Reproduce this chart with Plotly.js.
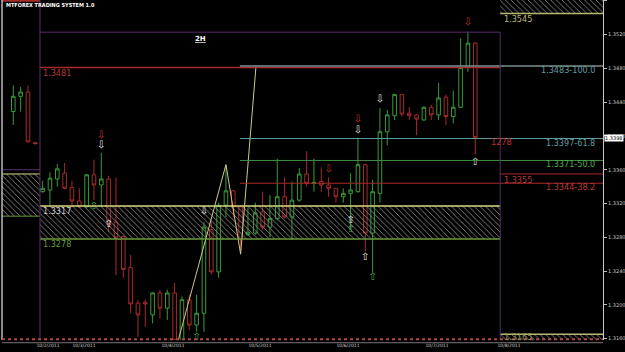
<!DOCTYPE html>
<html><head><meta charset="utf-8">
<script src="https://cdn.plot.ly/plotly-3.0.1.min.js"></script>
<style>html,body{margin:0;padding:0;background:#000;}#chart{width:625px;height:352px;}</style>
</head><body><div id="chart"></div>
<script>
// ---- data (2H bars, index = bar number) ----
const bars  = [0,1,2,3,4,5,6,7,8,9,10,11,12,13,14,15,16,17,18,19,20,21,22,23,24,25,26,27,28,29,30,31,32,33,34,35,36,37,38,39,40,41,42,43,44,45,46,47,48,49,50,51,52,53,54,55,56,57,58,59,60,61,62,63];
const opens = [1.3429,1.3447,1.3452,1.3392,1.3334,1.3336,1.3349,1.3356,1.3339,1.3323,1.3316,1.3354,1.3342,1.3349,1.3298,1.3281,1.3244,1.3202,1.3203,1.3188,1.3214,1.3196,1.3214,1.3158,1.3206,1.3176,1.3190,1.3289,1.3239,1.3318,1.3335,1.3316,1.3283,1.3285,1.3310,1.3292,1.3302,1.3328,1.3304,1.3324,1.3355,1.3344,1.3346,1.3342,1.3338,1.3328,1.3332,1.3334,1.3366,1.3285,1.3332,1.3405,1.3424,1.3449,1.3427,1.3425,1.3419,1.3434,1.3425,1.3446,1.3423,1.3434,1.3481,1.3510];
const highs = [1.3460,1.3458,1.3460,1.3393,1.3347,1.3357,1.3367,1.3368,1.3347,1.3338,1.3355,1.3372,1.3380,1.3353,1.3351,1.3282,1.3259,1.3206,1.3206,1.3215,1.3218,1.3218,1.3226,1.3210,1.3212,1.3212,1.3298,1.3298,1.3321,1.3366,1.3336,1.3318,1.3315,1.3321,1.3334,1.3330,1.3373,1.3351,1.3346,1.3362,1.3382,1.3373,1.3363,1.3351,1.3338,1.3338,1.3356,1.3398,1.3367,1.3348,1.3433,1.3431,1.3450,1.3450,1.3434,1.3426,1.3435,1.3437,1.3463,1.3449,1.3454,1.3516,1.3523,1.3511];
const lows  = [1.3413,1.3429,1.3393,1.3390,1.3333,1.3318,1.3340,1.3337,1.3316,1.3315,1.3315,1.3324,1.3316,1.3286,1.3235,1.3232,1.3190,1.3162,1.3174,1.3178,1.3184,1.3182,1.3155,1.3155,1.3170,1.3168,1.3168,1.3236,1.3232,1.3304,1.3304,1.3260,1.3282,1.3283,1.3289,1.3280,1.3300,1.3302,1.3277,1.3322,1.3340,1.3334,1.3334,1.3328,1.3321,1.3321,1.3289,1.3333,1.3263,1.3238,1.3321,1.3389,1.3419,1.3423,1.3419,1.3401,1.3418,1.3419,1.3419,1.3413,1.3415,1.3433,1.3476,1.3378];
const closes= [1.3447,1.3452,1.3393,1.3391,1.3338,1.3350,1.3361,1.3338,1.3323,1.3316,1.3354,1.3342,1.3349,1.3295,1.3279,1.3242,1.3201,1.3188,1.3201,1.3214,1.3196,1.3214,1.3158,1.3206,1.3176,1.3190,1.3292,1.3239,1.3318,1.3335,1.3316,1.3277,1.3286,1.3309,1.3292,1.3302,1.3328,1.3304,1.3324,1.3355,1.3344,1.3345,1.3342,1.3338,1.3328,1.3332,1.3336,1.3366,1.3285,1.3334,1.3405,1.3425,1.3449,1.3426,1.3424,1.3420,1.3434,1.3425,1.3445,1.3423,1.3434,1.3481,1.3510,1.3398];

const dateTickPos    = [4.73, 9.64, 21.78, 33.64, 45.64, 57.78, 67.6];
const dateTickLabels = ["10/2/2011","10/3/2011","10/4/2011","10/5/2011","10/6/2011","10/7/2011","10/8/2011"];
const priceTicks     = [1.3160,1.3200,1.3240,1.3280,1.3320,1.3360,1.3400,1.3440,1.3480,1.3520,1.3560];

// zig-zag swing points
const zigX = [22.4, 29, 31, 33.1];
const zigY = [1.3155, 1.3366, 1.3260, 1.3483];

// signal arrows
const whiteDownX = [12, 26, 47, 50];      const whiteDownY = [1.3389, 1.3310, 1.3407, 1.3443];
const whiteUpX   = [13, 46, 48, 63];      const whiteUpY   = [1.3295, 1.3300, 1.3256, 1.3369];
const greenUpX   = [11, 25, 46, 49];      const greenUpY   = [1.3316, 1.3161, 1.3289, 1.3232];
const redDownX   = [12, 43, 47, 62];      const redDownY   = [1.3401, 1.3360, 1.3419, 1.3534];

// levels
const prevHigh = 1.3481, fib100 = 1.3483, fib618 = 1.3397, fib50 = 1.3371, fib382 = 1.3344;
const zoneTop = 1.3317, zoneBot = 1.3278;
const leftZoneTop = 1.3355, leftZoneBot = 1.3305, leftPurple = 1.3360;
const nextHigh = 1.3545, nextMid = 1.3355, nextLow = 1.3165;
const boxTop = 1.3523;
const boxStart = 3.64, fibStart = 30.9, boxEnd = 66.4;

const X0 = -1.54, X1 = 80.42, Y0 = 1.31583, Y1 = 1.35611;

// ---- build ----
const GREEN = '#3a9a3a', RED = '#a82a2a', TEAL = '#5f9ea0', FGREEN = '#3f8f3f', YEL = '#d8d880', PURP = '#5a2d6e';
const hatch = {shape: '\\', fgcolor: '#8a8a8a', bgcolor: 'rgba(0,0,0,0)', size: 4, solidity: 0.22};
function box(x0, x1, y0, y1) {
  return {type: 'scatter', mode: 'lines', x: [x0, x1, x1, x0, x0], y: [y0, y0, y1, y1, y0],
    fill: 'toself', fillcolor: 'rgba(0,0,0,0)', fillpattern: hatch, line: {width: 0}, hoverinfo: 'skip'};
}
function arrows(xs, ys, glyph, color) {
  return {type: 'scatter', mode: 'text', x: xs, y: ys, text: xs.map(() => glyph),
    textfont: {size: 10, color: color, family: 'DejaVu Sans'}, hoverinfo: 'skip'};
}
const traces = [
  box(boxStart, boxEnd, zoneBot, zoneTop),
  box(X0, boxStart, leftZoneBot, leftZoneTop),
  box(boxEnd, X1, nextHigh, Y1),
  box(boxEnd, X1, Y0, nextLow),
  {type: 'candlestick', x: bars, open: opens, high: highs, low: lows, close: closes,
   increasing: {line: {color: GREEN, width: 1}, fillcolor: 'rgba(0,0,0,0)'},
   decreasing: {line: {color: RED, width: 1}, fillcolor: 'rgba(0,0,0,0)'},
   whiskerwidth: 0, hoverinfo: 'skip'},
  {type: 'scatter', mode: 'lines', x: zigX, y: zigY, line: {color: '#cfc88a', width: 1}, hoverinfo: 'skip'},
  arrows(whiteDownX, whiteDownY, '⇩', '#e8e8e8'),
  arrows(whiteUpX, whiteUpY, '⇧', '#e8e8e8'),
  arrows(greenUpX, greenUpY, '⇧', '#4caf50'),
  arrows(redDownX, redDownY, '⇩', '#c03030')
];

function hl(x0, x1, y, color, w) {
  return {type: 'line', xref: 'x', yref: 'y', x0: x0, x1: x1, y0: y, y1: y, line: {color: color, width: w || 1}};
}
function vl(x, y0, y1, color) {
  return {type: 'line', xref: 'x', yref: 'y', x0: x, x1: x, y0: y0, y1: y1, line: {color: color, width: 1}};
}
const shapes = [
  hl(boxStart, boxEnd, prevHigh, RED, 1.5),
  hl(fibStart, X1, fib100, '#7a8f8f', 1.5),
  hl(fibStart, X1, fib618, TEAL),
  hl(fibStart, X1, fib50, FGREEN),
  hl(fibStart, X1, fib382, RED),
  hl(boxEnd, X1, nextMid, RED),
  hl(boxEnd, X1, nextHigh, '#b8b870', 1.5),
  hl(boxEnd, X1, nextLow, '#b8b870', 1.5),
  hl(boxStart, boxEnd, zoneTop, YEL, 1.5),
  hl(boxStart, boxEnd, zoneBot, '#6a9a3a', 1.5),
  hl(X0, boxStart, leftZoneTop, YEL, 1),
  hl(X0, boxStart, leftZoneBot, '#6a9a3a', 1),
  hl(X0, boxStart, leftPurple, PURP, 1),
  hl(X0, boxStart, Y1 - 0.0001, RED, 2),
  hl(boxStart, boxEnd, boxTop, PURP, 1),
  vl(boxStart, Y0, Y1, PURP),
  vl(boxEnd, Y0, boxTop, PURP),
  {type: 'line', xref: 'paper', yref: 'paper', x0: 0, x1: 0, y0: 0, y1: 1, line: {color: '#bbbbbb', width: 1.5}},
  {type: 'line', xref: 'paper', yref: 'paper', x0: 0, x1: 1, y0: 0.002, y1: 0.002, line: {color: '#b04848', width: 2, dash: 'dot'}},
  {type: 'line', xref: 'paper', yref: 'paper', x0: 0, x1: 1, y0: -0.008, y1: -0.008, line: {color: '#777', width: 1}}
];

const NF = 'Liberation Sans Narrow, DejaVu Sans Condensed, Arial Narrow, sans-serif';
const px = p => (p - 2) / 601;
function lab(xp, y, text, color, anchor, yshift) {
  return {xref: 'paper', yref: 'y', x: px(xp), y: y, text: text, showarrow: false, xanchor: anchor,
    yanchor: 'middle', yshift: yshift, font: {family: NF, size: 9, color: color}};
}
const annotations = [
  {xref: 'paper', yref: 'paper', x: px(4), y: 0.985, text: '<b>MTFOREX TRADING SYSTEM 1.0</b>', showarrow: false,
   xanchor: 'left', yanchor: 'middle', font: {family: 'DejaVu Sans Condensed, sans-serif', size: 5.5, color: '#ffffff'}},
  {xref: 'paper', yref: 'y', x: px(200), y: 1.3515, text: '<b><u>2H</u></b>', showarrow: false, xanchor: 'center',
   yanchor: 'middle', font: {family: 'DejaVu Sans, sans-serif', size: 7, color: '#ffffff'}},
  lab(41, prevHigh, prevHigh.toFixed(4), '#b03838', 'left', -5),
  lab(41, zoneTop, zoneTop.toFixed(4), '#c8c8c8', 'left', -5),
  lab(41, zoneBot, zoneBot.toFixed(4), '#6a9a3a', 'left', -5),
  lab(502, nextHigh, nextHigh.toFixed(4), '#b8b870', 'left', -5),
  lab(502, nextMid, nextMid.toFixed(4), '#b83838', 'left', -6),
  lab(502, nextLow, nextLow.toFixed(4), '#8a8a50', 'left', -3),
  lab(597, fib100, fib100.toFixed(4) + '-100.0', TEAL, 'right', -4),
  lab(597, fib618, fib618.toFixed(4) + '-61.8', TEAL, 'right', -4),
  lab(597, fib50, fib50.toFixed(4) + '-50.0', '#4caf50', 'right', -4),
  lab(597, fib382, fib382.toFixed(4) + '-38.2', '#b83838', 'right', -4),
  lab(489, closes[closes.length - 1], '1278', '#c03030', 'left', -4),
  {xref: 'paper', yref: 'y', x: 1, y: closes[closes.length - 1], text: closes[closes.length - 1].toFixed(4),
   showarrow: false, xanchor: 'left', xshift: 1, yanchor: 'middle', bgcolor: '#ffffff', borderpad: 0,
   font: {family: 'DejaVu Sans, sans-serif', size: 5, color: '#000000'}}
];

const layout = {
  width: 625, height: 352, paper_bgcolor: '#000', plot_bgcolor: '#000',
  margin: {l: 2, r: 22, t: 0, b: 12}, showlegend: false, hovermode: false,
  xaxis: {range: [X0, X1], showgrid: false, zeroline: false, rangeslider: {visible: false},
    tickmode: 'array', tickvals: dateTickPos, ticktext: dateTickLabels, ticks: '', ticklabelstandoff: 1,
    tickfont: {family: 'DejaVu Sans, sans-serif', size: 4.5, color: '#d0d0d0'}, showline: false, fixedrange: true},
  yaxis: {range: [Y0, Y1], side: 'right', showgrid: false, zeroline: false, tickmode: 'array',
    tickvals: priceTicks, ticktext: priceTicks.map(v => v.toFixed(4)), ticks: 'outside', ticklen: 3,
    tickcolor: '#bbbbbb', showline: true, linecolor: '#c8c8c8', linewidth: 1,
    tickfont: {family: 'DejaVu Sans, sans-serif', size: 5, color: '#c8c8c8'}, fixedrange: true},
  shapes: shapes, annotations: annotations
};
Plotly.newPlot('chart', traces, layout, {staticPlot: true, displayModeBar: false});
</script></body></html>
